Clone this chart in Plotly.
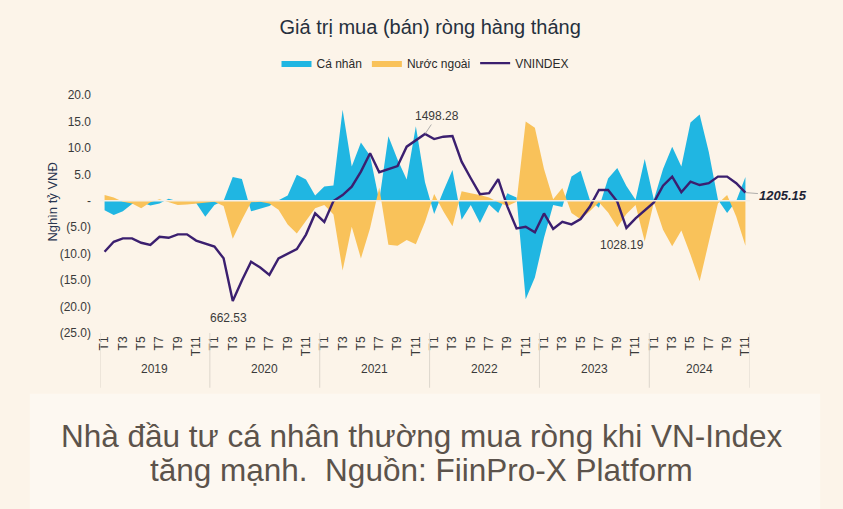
import plotly.graph_objects as go

# Monthly net buy (sell) values, thousand billion VND, Jan 2019 - Nov 2024
years = ['2019', '2020', '2021', '2022', '2023', '2024']
month_labels = ['T1', 'T3', 'T5', 'T7', 'T9', 'T11']

ca_nhan = [
    -1.8, -2.7, -2.0, -0.6, -0.3, -0.9, -0.5, 0.4, -0.1, -0.6, -0.4, -3.0,   # 2019
    -0.8, 0.0, 4.5, 4.1, -2.0, -1.5, -1.0, 0.1, 1.0, 4.9, 4.0, 1.0,         # 2020
    2.7, 2.9, 17.2, 6.5, 11.0, 8.5, 0.0, 12.2, 7.8, 4.0, 14.1, 3.5,          # 2021
    -2.5, 1.8, 5.8, -3.6, -0.8, -4.2, -0.7, -2.3, 1.4, 0.6, -18.6, -14.5,    # 2022
    -7.0, -0.8, -1.2, 4.6, 5.7, 0.2, -1.3, 4.2, 6.2, 2.8, 0.2, 7.9,          # 2023
    0.2, 6.0, 10.2, 6.5, 14.8, 16.3, 9.2, 0.2, -2.3, 0.0, 4.5,               # 2024
]
nuoc_ngoai = [
    1.1, 0.6, -0.2, -0.5, -1.4, -0.3, 0.3, -0.3, -0.8, -0.7, -0.5, -0.4,     # 2019
    -0.2, -1.0, -7.2, -3.6, -0.3, -0.2, -0.5, -1.7, -4.5, -6.2, -3.9, -1.4,  # 2020
    -0.8, -2.6, -13.2, -4.9, -10.9, -5.2, 2.5, -8.3, -8.5, -7.4, -8.2, -4.0, # 2021
    1.3, -2.0, -4.8, 1.8, 1.4, 1.1, 0.6, -0.3, -1.0, -0.2, 15.0, 13.8,       # 2022
    6.0, 0.3, 2.4, -2.3, -3.5, -2.0, -0.3, -2.2, -5.0, -2.5, -0.8, -7.7,     # 2023
    -0.3, -5.5, -8.6, -5.6, -10.2, -15.2, -7.8, -0.5, 1.1, -3.0, -8.5,       # 2024
]
vnindex = [
    909, 959, 976, 976, 954, 943, 984, 979, 996, 996, 965, 950,             # 2019
    935, 876, 662.53, 765, 859, 830, 793, 876, 898, 922, 995, 1101,         # 2020
    1058, 1163, 1193, 1235, 1310, 1402, 1307, 1323, 1338, 1435, 1468, 1498.28,  # 2021
    1473, 1485, 1488, 1360, 1277, 1197, 1202, 1273, 1135, 1026, 1034, 1006, # 2022
    1101, 1023, 1059, 1046, 1073, 1134, 1218, 1218, 1160, 1028.19, 1076, 1118,  # 2023
    1156, 1240, 1285, 1207, 1260, 1243, 1252, 1285, 1285, 1252, 1205.15,    # 2024
]

y_ticks = [20, 15, 10, 5, 0, -5, -10, -15, -20, -25]
y_ticktext = ['20.0', '15.0', '10.0', '5.0', '-', '(5.0)', '(10.0)', '(15.0)', '(20.0)', '(25.0)']

# highlighted index values: (month index, label)
callouts = [(14, '662.53'), (35, '1498.28'), (57, '1028.19'), (70, '1205.15')]

n = len(vnindex)
x = list(range(n))

# month tick positions (every other month) and year group centres
tick_vals = []
tick_text = []
year_centres = []
year_edges = [-0.5]
for k, yr in enumerate(years):
    start = k * 12
    count = min(12, n - start)
    for j, lab in enumerate(month_labels):
        if j * 2 < count:
            tick_vals.append(start + j * 2)
            tick_text.append(lab)
    year_centres.append(start + (count - 1) / 2)
    year_edges.append(start + count - 0.5)

BLUE = '#20b6e2'
YELLOW = '#f9c25a'
PURPLE = '#3b1f6f'
TEXT = '#3a3a3a'
BG = '#fcf4e9'
FONT = 'Arial, Liberation Sans, sans-serif'

fig = go.Figure()

fig.add_trace(go.Scatter(
    x=x, y=ca_nhan, name='Cá nhân', mode='lines',
    line=dict(width=0, color=BLUE), fill='tozeroy', fillcolor=BLUE,
))
fig.add_trace(go.Scatter(
    x=x, y=nuoc_ngoai, name='Nước ngoài', mode='lines',
    line=dict(width=0, color=YELLOW), fill='tozeroy', fillcolor=YELLOW,
))
fig.add_trace(go.Scatter(
    x=x, y=vnindex, name='VNINDEX', mode='lines', yaxis='y2',
    line=dict(width=2.4, color=PURPLE),
))

# light zero line over the areas
fig.add_shape(type='line', xref='paper', x0=0, x1=1, yref='y', y0=0, y1=0,
              line=dict(color='#f4efe8', width=1.5), layer='above')

# year separators below the axis
for e in year_edges:
    fig.add_shape(type='line', xref='x', x0=e, x1=e, yref='paper', y0=0, y1=-0.23,
                  line=dict(color='#ddd6cc', width=1))

# year labels
for c, yr in zip(year_centres, years):
    fig.add_annotation(x=c, xref='x', y=0, yref='paper', yshift=-45, text=yr,
                       showarrow=False, font=dict(size=12, color=TEXT))

# VNINDEX callouts
for idx, lab in callouts:
    if lab == '1498.28':
        fig.add_annotation(x=idx, y=vnindex[idx], xref='x', yref='y2', text=lab,
                           showarrow=True, arrowhead=0, arrowwidth=0.8, arrowcolor='#9a9a9a',
                           ax=12, ay=-18, font=dict(size=12, color=TEXT))
    elif lab == '1205.15':
        fig.add_annotation(x=idx, y=vnindex[idx], xref='x', yref='y2', text='<b><i>' + lab + '</i></b>',
                           showarrow=True, arrowhead=0, arrowwidth=0.8, arrowcolor='#9a9a9a',
                           ax=38, ay=3, font=dict(size=13, color='#1d2436'))
    else:
        fig.add_annotation(x=idx, y=vnindex[idx], xref='x', yref='y2', text=lab,
                           showarrow=False, xshift=-4, yshift=-17, font=dict(size=12, color=TEXT))

# y axis title, placed by hand
fig.add_annotation(xref='paper', yref='paper', x=0, xshift=-57, y=0.55, textangle=-90,
                   text='Nghìn tỷ VNĐ', showarrow=False, font=dict(size=13, color='#2a3550'))

# caption under the chart
fig.add_shape(type='rect', xref='paper', yref='paper', x0=-0.108, x1=1.108, y0=-0.755, y1=-0.255,
              line=dict(width=0), fillcolor='#fdf8f1', layer='below')
caption = ['Nhà đầu tư cá nhân thường mua ròng khi VN-Index',
           'tăng mạnh.  Nguồn: FiinPro-X Platform']
for i, line in enumerate(caption):
    fig.add_annotation(
        xref='paper', yref='paper', x=0.495, y=0, yshift=-(103 + i * 34), yanchor='middle',
        showarrow=False, text=line, font=dict(size=31.5, color='#5c534b', family=FONT),
    )

fig.update_layout(
    width=843, height=509,
    margin=dict(l=100, r=93, t=95, b=176),
    paper_bgcolor=BG, plot_bgcolor=BG,
    font=dict(family=FONT, color=TEXT, size=12),
    title=dict(text='Giá trị mua (bán) ròng hàng tháng', x=0.508, xref='paper', xanchor='center',
               y=0.947, yanchor='middle', font=dict(size=20, color='#26303d')),
    legend=dict(orientation='h', x=0.5, xanchor='center', y=1.134, yanchor='middle',
                font=dict(size=12, color='#2a2a2a'), bgcolor='rgba(0,0,0,0)'),
    showlegend=True,
    hovermode='x unified',
)

fig.update_xaxes(range=[-0.5, n - 0.5], tickvals=tick_vals, ticktext=tick_text, tickangle=-90,
                 showgrid=False, zeroline=False, showline=False, ticks='',
                 tickfont=dict(size=12, color=TEXT))
fig.update_yaxes(range=[-25, 20], tickvals=y_ticks, ticktext=y_ticktext, showgrid=False,
                 zeroline=False, showline=False, ticks='', ticklabelstandoff=8,
                 tickfont=dict(size=12, color=TEXT))
fig.update_layout(yaxis2=dict(overlaying='y', side='right', range=[502.4, 1693.6], visible=False))

# drop the browser's default page margin so the figure fills the window
fig.write_html('out.html', config={'displayModeBar': False},
               post_script="document.body.style.margin='0';")
